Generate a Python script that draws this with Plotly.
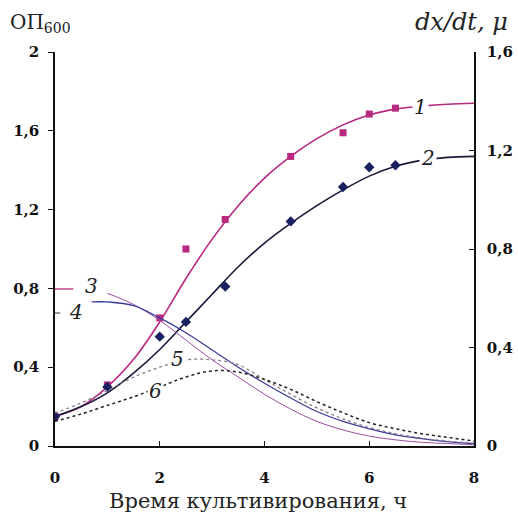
import plotly.graph_objects as go

# Time grid for fitted curves (h)
t_curve = [0, 0.5, 1, 1.5, 2, 2.5, 3, 3.5, 4, 4.5, 5, 5.5, 6, 6.5, 7, 7.5, 8]
curve1 = [0.15, 0.20, 0.30, 0.44, 0.63, 0.85, 1.05, 1.22, 1.36, 1.47, 1.56, 1.63, 1.68, 1.71, 1.725, 1.735, 1.74]
curve2 = [0.15, 0.20, 0.27, 0.37, 0.49, 0.63, 0.77, 0.91, 1.03, 1.13, 1.22, 1.30, 1.37, 1.42, 1.45, 1.465, 1.47]

# Right-axis curves
t3 = [1, 1.5, 2, 2.5, 3, 3.5, 4, 4.5, 5, 5.5, 6, 6.5, 7, 7.5, 8]
curve3 = [0.62, 0.575, 0.51, 0.43, 0.35, 0.28, 0.21, 0.15, 0.10, 0.065, 0.04, 0.025, 0.015, 0.01, 0.005]
t4 = [0.7, 1, 1.5, 2, 2.5, 3, 3.5, 4, 4.5, 5, 5.5, 6, 6.5, 7, 7.5, 8]
curve4 = [0.585, 0.585, 0.57, 0.52, 0.46, 0.39, 0.32, 0.255, 0.195, 0.14, 0.10, 0.07, 0.045, 0.03, 0.018, 0.01]
curve5 = [0.134, 0.175, 0.225, 0.28, 0.32, 0.35, 0.35, 0.33, 0.27, 0.21, 0.155, 0.11, 0.075, 0.05, 0.032, 0.02, 0.012]
curve6 = [0.10, 0.13, 0.165, 0.20, 0.24, 0.28, 0.305, 0.30, 0.27, 0.23, 0.18, 0.135, 0.095, 0.07, 0.05, 0.035, 0.02]

# Measured points
t_pts = [0, 1, 2, 2.5, 3.25, 4.5, 5.5, 6, 6.5]
pts1 = [0.15, 0.31, 0.65, 1.0, 1.15, 1.47, 1.59, 1.685, 1.715]
pts2 = [0.15, 0.30, 0.555, 0.63, 0.81, 1.14, 1.315, 1.415, 1.425]

x_ticks = [0, 2, 4, 6, 8]
yl_ticks = [0, 0.4, 0.8, 1.2, 1.6, 2]
yl_text = ["0", "0,4", "0,8", "1,2", "1,6", "2"]
yr_ticks = [0, 0.4, 0.8, 1.2, 1.6]
yr_text = ["0", "0,4", "0,8", "1,2", "1,6"]

C1 = "#B8287E"
C2 = "#1A1A3A"
C3 = "#9A4C9E"
C4 = "#3C3C9C"
C5 = "#8A7A8A"
C6 = "#222222"

fig = go.Figure()
fig.add_trace(go.Scatter(x=t_curve, y=curve1, mode="lines", line=dict(color=C1, width=1.6, shape="spline"), yaxis="y"))
fig.add_trace(go.Scatter(x=t_curve, y=curve2, mode="lines", line=dict(color=C2, width=1.6, shape="spline"), yaxis="y"))
fig.add_trace(go.Scatter(x=t3, y=curve3, mode="lines", line=dict(color=C3, width=1.0, shape="spline"), yaxis="y2"))
fig.add_trace(go.Scatter(x=t4, y=curve4, mode="lines", line=dict(color=C4, width=1.3, shape="spline"), yaxis="y2"))
fig.add_trace(go.Scatter(x=t_curve, y=curve5, mode="lines", line=dict(color=C5, width=1.3, dash="dot", shape="spline"), yaxis="y2"))
fig.add_trace(go.Scatter(x=t_curve, y=curve6, mode="lines", line=dict(color=C6, width=1.5, dash="dot", shape="spline"), yaxis="y2"))
fig.add_trace(go.Scatter(x=t_pts, y=pts1, mode="markers", marker=dict(symbol="square", size=7, color=C1), yaxis="y"))
fig.add_trace(go.Scatter(x=t_pts, y=pts2, mode="markers", marker=dict(symbol="diamond", size=8, color="#1A2060"), yaxis="y"))

serif = "DejaVu Serif"
tickfont = dict(family=serif, size=15, color="#111", weight="bold")

fig.update_layout(
    width=518, height=515,
    margin=dict(l=55, r=44, t=52, b=69),
    paper_bgcolor="white", plot_bgcolor="white",
    showlegend=False,
    xaxis=dict(range=[0, 8], tickvals=x_ticks, ticktext=[str(v) for v in x_ticks], automargin=False,
               showgrid=False, zeroline=False, showline=True, linecolor="#111", linewidth=1.5,
               ticks="inside", ticklen=5, tickcolor="#111", tickfont=tickfont, ticklabelstandoff=17),
    yaxis=dict(range=[0, 2], tickvals=yl_ticks, ticktext=yl_text, automargin=False,
               showgrid=False, zeroline=False, showline=True, linecolor="#111", linewidth=1.5,
               ticks="outside", ticklen=5, tickcolor="#111", tickfont=tickfont, ticklabelstandoff=6),
    yaxis2=dict(range=[0, 1.6], tickvals=yr_ticks, ticktext=yr_text, overlaying="y", side="right", automargin=False,
                showgrid=False, zeroline=False, showline=True, linecolor="#111", linewidth=1.5,
                ticks="inside", ticklen=5, tickcolor="#111", tickfont=tickfont, ticklabelstandoff=8),
)

labels = [
    ("1", 6.98, 1.72), ("2", 7.12, 1.46), ("3", 0.69, 0.81),
    ("4", 0.4, 0.68), ("5", 2.33, 0.44), ("6", 1.91, 0.28),
]
for txt, x, y in labels:
    fig.add_annotation(x=x, y=y, xref="x", yref="y", text=txt, showarrow=False,
                       font=dict(family=serif, size=20, color="#222", style="italic"),
                       bgcolor="white", borderpad=1)

fig.add_shape(type="line", xref="x", yref="y", x0=0, x1=0.35, y0=0.797, y1=0.797, line=dict(color=C1, width=1.3))
fig.add_shape(type="line", xref="x", yref="y", x0=0, x1=0.1, y0=0.675, y1=0.675, line=dict(color="#333", width=1))

# axis titles
fig.add_annotation(x=0.4845, y=0, xref="paper", yref="paper", xanchor="center", yanchor="middle",
                   yshift=-55, text="Время культивирования, ч", showarrow=False,
                   font=dict(family=serif, size=21, color="#222"))
fig.add_annotation(x=0.0, y=1.0, xref="paper", yref="paper", xanchor="left", yanchor="bottom",
                   xshift=-47, yshift=14, text="ОП<sub>600</sub>", showarrow=False,
                   font=dict(family=serif, size=20, color="#222"))
fig.add_annotation(x=1.0, y=1.0, xref="paper", yref="paper", xanchor="right", yanchor="bottom",
                   xshift=36, yshift=14, text="<i>dx/dt, μ</i>", showarrow=False,
                   font=dict(family=serif, size=24, color="#222"))

fig.write_html("out.html", config={"displayModeBar": False},
               post_script="document.body.style.margin='0';document.body.style.overflow='hidden';")
